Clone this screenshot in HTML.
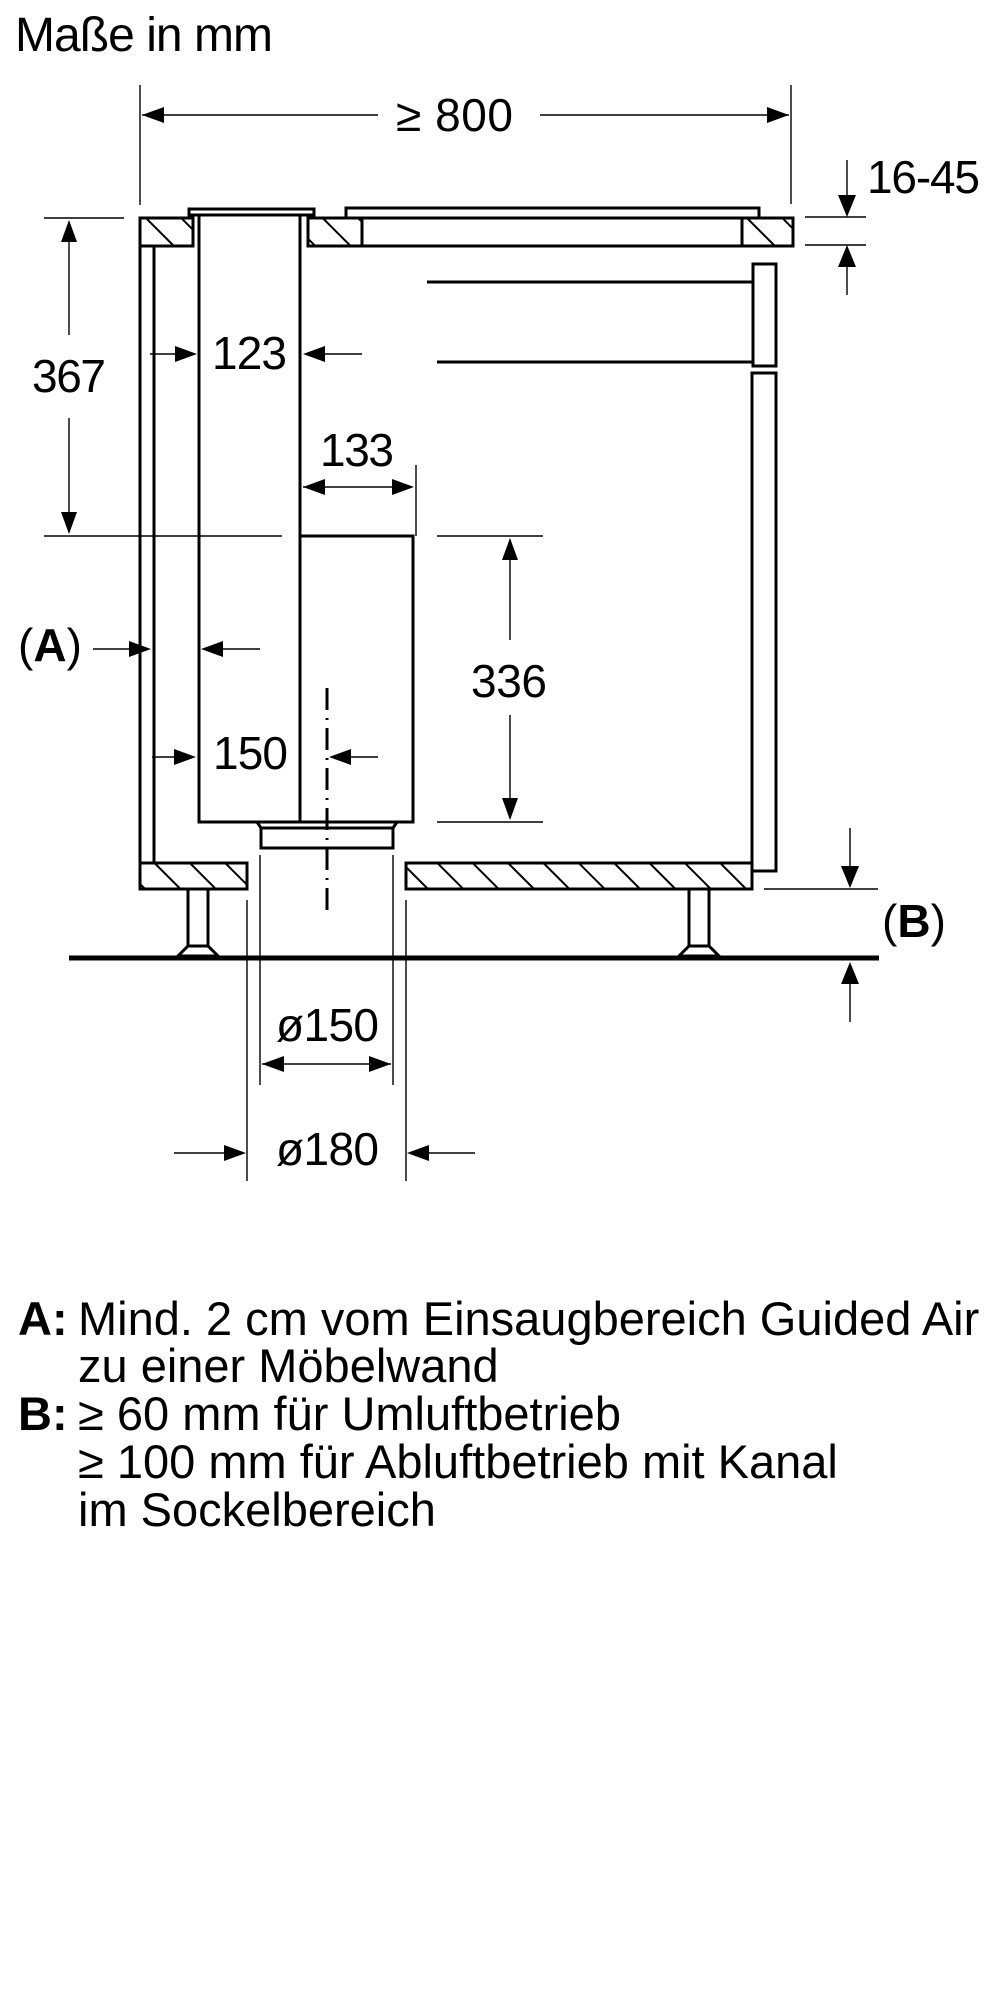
<!DOCTYPE html>
<html><head><meta charset="utf-8"><style>
html,body{margin:0;padding:0;background:#fff;}
svg{display:block;}
text{font-family:"Liberation Sans",Arial,sans-serif;fill:#000;}
</style></head><body>
<svg width="1000" height="2000" viewBox="0 0 1000 2000" xmlns="http://www.w3.org/2000/svg">
<defs>
<pattern id="h" patternUnits="userSpaceOnUse" width="25" height="25" patternTransform="rotate(-45)">
<rect width="25" height="25" fill="#fff"/>
<line x1="0" y1="0" x2="25" y2="0" stroke="#000" stroke-width="4" transform="rotate(90 12.5 12.5)"/>
</pattern>
</defs>
<g stroke="#000" fill="none" stroke-linejoin="miter">
<g stroke-width="3">
<rect x="140" y="218" width="53" height="28" fill="url(#h)"/>
<rect x="308" y="218" width="54" height="28" fill="url(#h)"/>
<rect x="742" y="218" width="51" height="28" fill="url(#h)"/>
<line x1="362" y1="218" x2="742" y2="218"/>
<line x1="362" y1="246" x2="742" y2="246"/>
<rect x="346" y="208" width="413" height="10" fill="#fff"/>
<rect x="189" y="209" width="125" height="6" fill="#fff"/>
<rect x="140" y="246" width="14" height="617"/>
<polyline points="199,215 199,822 301,822"/>
<line x1="300" y1="215" x2="300" y2="822"/>
<rect x="300" y="536" width="113" height="286"/>
<polyline points="257,822 261,828 393,828 397,822"/>
<rect x="261" y="828" width="132" height="20"/>
<rect x="140" y="863" width="107" height="26" fill="url(#h)"/>
<rect x="406" y="863" width="346" height="26" fill="url(#h)"/>
<rect x="753" y="264" width="23" height="102"/>
<rect x="752" y="373" width="24" height="498"/>
<line x1="427" y1="282" x2="753" y2="282"/>
<line x1="437" y1="362" x2="753" y2="362"/>
<polyline points="188,889 188,946 208,946 208,889"/>
<polygon points="188,946 208,946 218,956 178,956" fill="#fff"/>
<polyline points="689,889 689,946 709,946 709,889"/>
<polygon points="689,946 709,946 719,956 679,956" fill="#fff"/>
</g>
<line x1="69" y1="958" x2="879" y2="958" stroke-width="5"/>
<line x1="327" y1="688" x2="327" y2="915" stroke-width="3" stroke-dasharray="22,8,2,8"/>
<g stroke-width="1.4">
<line x1="140" y1="85" x2="140" y2="205"/>
<line x1="791" y1="85" x2="791" y2="204"/>
<line x1="142" y1="115" x2="378" y2="115"/>
<line x1="540" y1="115" x2="789" y2="115"/>
<line x1="805" y1="217" x2="866" y2="217"/>
<line x1="805" y1="245" x2="866" y2="245"/>
<line x1="847" y1="160" x2="847" y2="210"/>
<line x1="847" y1="252" x2="847" y2="295"/>
<line x1="44" y1="218" x2="124" y2="218"/>
<line x1="44" y1="536" x2="282" y2="536"/>
<line x1="69" y1="222" x2="69" y2="335"/>
<line x1="69" y1="418" x2="69" y2="532"/>
<line x1="150" y1="354" x2="190" y2="354"/>
<line x1="310" y1="354" x2="362" y2="354"/>
<line x1="303" y1="487" x2="411" y2="487"/>
<line x1="416" y1="465" x2="416" y2="536"/>
<line x1="437" y1="536" x2="543" y2="536"/>
<line x1="437" y1="822" x2="543" y2="822"/>
<line x1="510" y1="540" x2="510" y2="640"/>
<line x1="510" y1="715" x2="510" y2="818"/>
<line x1="93" y1="649" x2="140" y2="649"/>
<line x1="210" y1="649" x2="260" y2="649"/>
<line x1="152" y1="757" x2="190" y2="757"/>
<line x1="336" y1="757" x2="378" y2="757"/>
<line x1="850" y1="828" x2="850" y2="880"/>
<line x1="764" y1="889" x2="878" y2="889"/>
<line x1="850" y1="970" x2="850" y2="1022"/>
<line x1="247" y1="900" x2="247" y2="1181"/>
<line x1="406" y1="900" x2="406" y2="1181"/>
<line x1="260" y1="855" x2="260" y2="1085"/>
<line x1="393" y1="855" x2="393" y2="1085"/>
<line x1="262" y1="1064" x2="391" y2="1064"/>
<line x1="174" y1="1153" x2="240" y2="1153"/>
<line x1="413" y1="1153" x2="475" y2="1153"/>
</g>
</g>
<g fill="#000">
<polygon points="142,115 164,107 164,123"/>
<polygon points="789,115 767,107 767,123"/>
<polygon points="847,217 838,195 856,195"/>
<polygon points="847,245 838,267 856,267"/>
<polygon points="69,220 61,242 77,242"/>
<polygon points="69,534 61,512 77,512"/>
<polygon points="197,354 175,346 175,362"/>
<polygon points="303,354 325,346 325,362"/>
<polygon points="303,487 325,479 325,495"/>
<polygon points="414,487 392,479 392,495"/>
<polygon points="510,538 502,560 518,560"/>
<polygon points="510,820 502,798 518,798"/>
<polygon points="151,649 129,641 129,657"/>
<polygon points="201,649 223,641 223,657"/>
<polygon points="196,757 174,749 174,765"/>
<polygon points="329,757 351,749 351,765"/>
<polygon points="850,888 841,866 859,866"/>
<polygon points="850,962 841,984 859,984"/>
<polygon points="262,1064 284,1056 284,1072"/>
<polygon points="391,1064 369,1056 369,1072"/>
<polygon points="246,1153 224,1145 224,1161"/>
<polygon points="407,1153 429,1145 429,1161"/>
</g>
<text x="15" y="51" font-size="48" textLength="258">Maße in mm</text>
<text x="396" y="131" font-size="46" textLength="117">≥ 800</text>
<text x="867" y="193" font-size="46" textLength="113">16-45</text>
<text x="32" y="392" font-size="46" textLength="74">367</text>
<text x="212" y="369" font-size="46" textLength="75">123</text>
<text x="320" y="466" font-size="46" textLength="74">133</text>
<text x="471" y="697" font-size="46" textLength="76">336</text>
<text x="213" y="769" font-size="46" textLength="75">150</text>
<text x="18" y="661" font-size="46">(<tspan font-weight="bold">A</tspan>)</text>
<text x="882" y="937" font-size="46">(<tspan font-weight="bold">B</tspan>)</text>
<text x="276" y="1041" font-size="46" textLength="103">ø150</text>
<text x="276" y="1165" font-size="46" textLength="103">ø180</text>
<g font-size="47">
<text x="18" y="1335" font-weight="bold">A:</text>
<text x="78" y="1335">Mind. 2 cm vom Einsaugbereich Guided Air</text>
<text x="78" y="1382">zu einer Möbelwand</text>
<text x="18" y="1430" font-weight="bold">B:</text>
<text x="78" y="1430">≥ 60 mm für Umluftbetrieb</text>
<text x="78" y="1478">≥ 100 mm für Abluftbetrieb mit Kanal</text>
<text x="78" y="1526">im Sockelbereich</text>
</g>
</svg>
</body></html>
